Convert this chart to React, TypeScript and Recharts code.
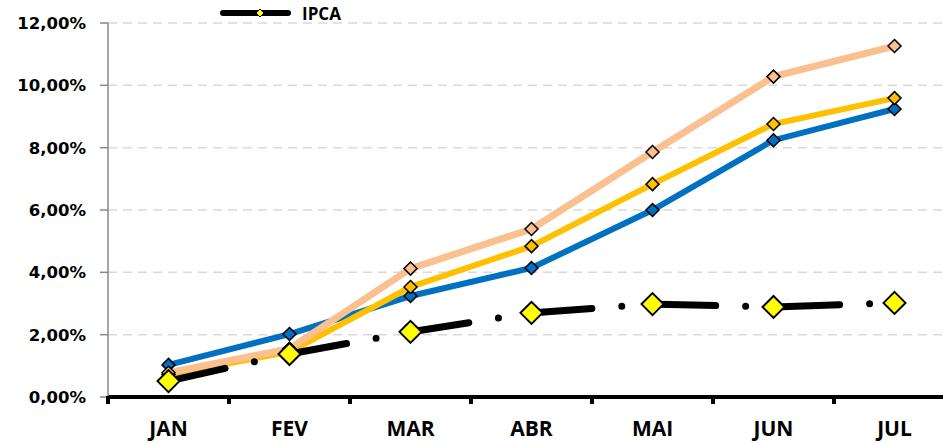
import React from 'react';
import { LineChart, Line, XAxis, YAxis, CartesianGrid } from 'recharts';

const months = ['JAN', 'FEV', 'MAR', 'ABR', 'MAI', 'JUN', 'JUL'];
const serieAzul = [1.03, 2.02, 3.24, 4.14, 6.0, 8.24, 9.24];
const serieAmarela = [0.72, 1.45, 3.53, 4.84, 6.83, 8.76, 9.59];
const seriePessego = [0.78, 1.55, 4.12, 5.39, 7.86, 10.28, 11.26];
const ipca = [0.51, 1.38, 2.09, 2.7, 2.98, 2.89, 3.02];
const yTicks = [0, 2, 4, 6, 8, 10, 12];

const data = months.map((m, i) => ({
  month: m,
  azul: serieAzul[i],
  amarela: serieAmarela[i],
  pessego: seriePessego[i],
  ipca: ipca[i],
}));

const YFONT = '"DejaVu Sans", sans-serif';
const XFONT = '"Open Sans", sans-serif';

const makeDiamond = (r: number, fill: string, sw: number) => (props: any) => {
  const { cx, cy, index } = props;
  if (cx == null || cy == null) return <g key={index} />;
  return (
    <polygon
      key={index}
      points={`${cx},${cy - r} ${cx + r},${cy} ${cx},${cy + r} ${cx - r},${cy}`}
      fill={fill}
      stroke="#000"
      strokeWidth={sw}
      strokeLinejoin="miter"
    />
  );
};

const XTick = (props: any) => {
  const { x, y, payload } = props;
  const bw = 121;
  return (
    <g>
      <line x1={x - bw / 2} y1={y - 9} x2={x - bw / 2} y2={y - 1} stroke="#000" strokeWidth={4} />
      <text x={x} y={y + 31} textAnchor="middle" fontFamily={XFONT} fontWeight={700} fontSize={21} fill="#000">
        {payload.value}
      </text>
    </g>
  );
};

const fmt = (v: number) => v.toFixed(2).replace('.', ',') + '%';

const LegendOverlay = () => (
  <svg width={400} height={30} style={{ position: 'absolute', left: 0, top: 0, display: 'block' }}>
    <line x1={223} y1={13} x2={288} y2={13} stroke="#000" strokeWidth={6} strokeLinecap="round" />
    <polygon points="260,9 264,13 260,17 256,13" fill="#FFFF00" stroke="#000" strokeWidth={1} />
    <text x={302} y={20} fontFamily={XFONT} fontWeight={700} fontSize={17} fill="#000">IPCA</text>
  </svg>
);

export default function App() {
  return (
    <div style={{ position: 'absolute', left: 0, top: 0, width: 943, height: 443, overflow: 'hidden', background: '#fff' }}>
      <LineChart width={960} height={443} data={data} margin={{ top: 23, right: 5, left: 0, bottom: 0 }}>
        <CartesianGrid vertical={false} stroke="#D9D9D9" strokeDasharray="9 6" strokeWidth={1.5} />
        <XAxis
          dataKey="month"
          scale="band"
          height={46}
          axisLine={{ stroke: '#000', strokeWidth: 4 }}
          tickLine={false}
          tick={<XTick />}
          interval={0}
        />
        <YAxis
          width={108}
          domain={[0, 12]}
          ticks={yTicks}
          tickFormatter={fmt}
          axisLine={{ stroke: '#888', strokeWidth: 1.5 }}
          tickLine={{ stroke: '#888', strokeWidth: 1.5 }}
          tickSize={8}
          tickMargin={14}
          tick={{ fontFamily: YFONT, fontWeight: 700, fontSize: 16.5, fill: '#000' }}
        />
        <Line type="linear" dataKey="azul" stroke="#0070C0" strokeWidth={6} dot={makeDiamond(6.5, '#0070C0', 1.5)} activeDot={false} isAnimationActive={false} />
        <Line type="linear" dataKey="amarela" stroke="#FFC000" strokeWidth={6} dot={makeDiamond(6.5, '#FFC000', 1.5)} activeDot={false} isAnimationActive={false} />
        <Line type="linear" dataKey="pessego" stroke="#FAC090" strokeWidth={7} dot={makeDiamond(6.5, '#FAC090', 1.5)} activeDot={false} isAnimationActive={false} />
        <Line type="linear" dataKey="ipca" stroke="#000" strokeWidth={7} strokeLinecap="round" strokeDasharray="58 30 0 36" dot={makeDiamond(11, '#FFFF00', 2)} activeDot={false} isAnimationActive={false} />
      </LineChart>
      <LegendOverlay />
    </div>
  );
}
